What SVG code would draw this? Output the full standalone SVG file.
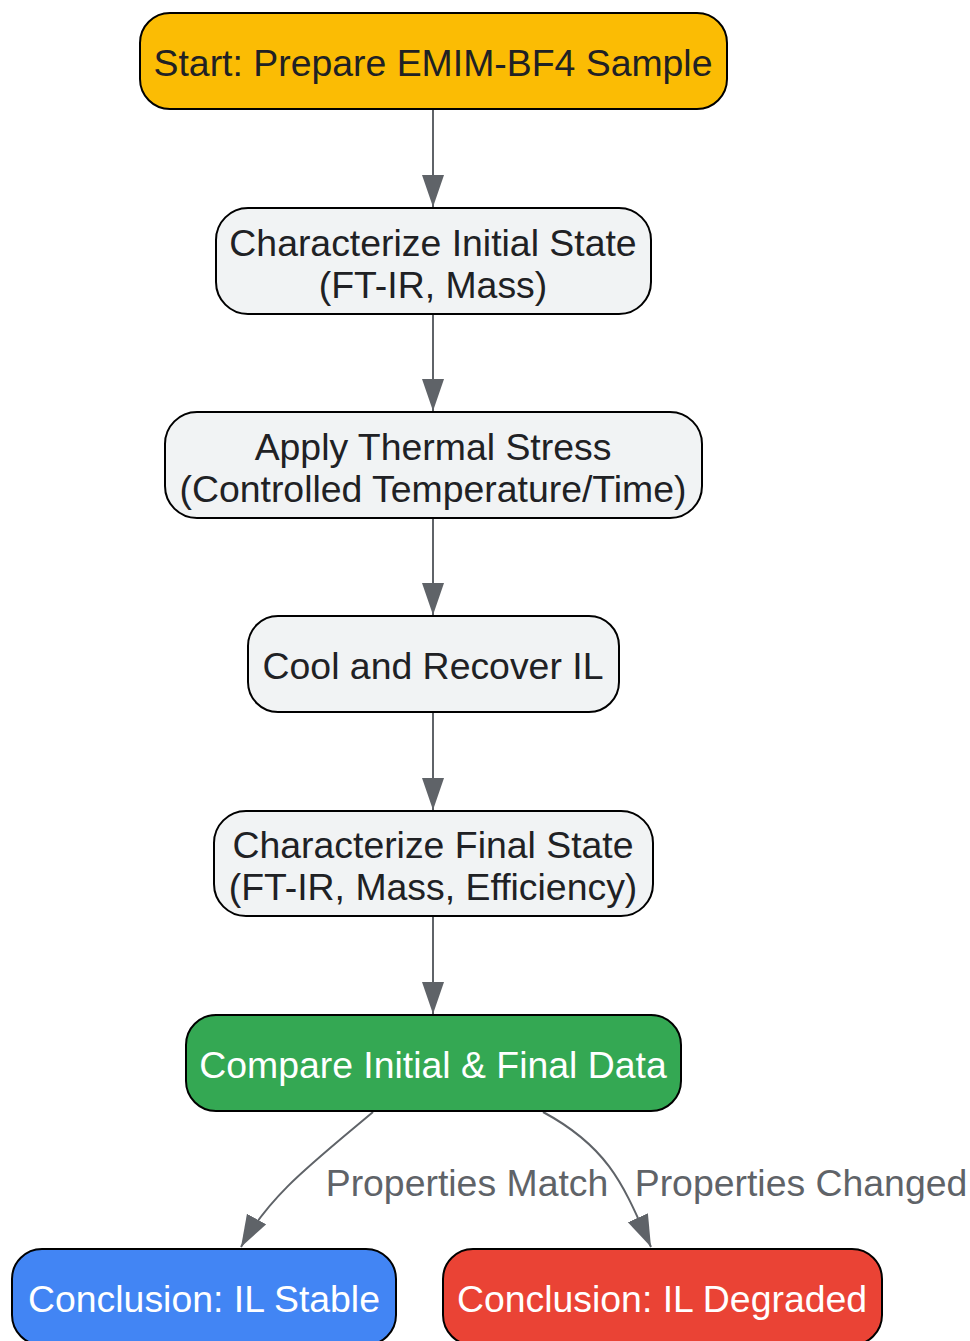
<svg xmlns="http://www.w3.org/2000/svg" width="970" height="1341" viewBox="0 0 970 1341">
<style>
.n rect{stroke:#000;stroke-width:2}
.g{fill:#F1F3F4}
.t{font-family:"Liberation Sans",Arial,sans-serif;font-size:37.4px;fill:#202124;text-anchor:middle}
.w{fill:#FFFFFF}
.e{fill:none;stroke:#5F6368;stroke-width:2}
.l{font-family:"Liberation Sans",Arial,sans-serif;font-size:37.4px;fill:#5F6368;text-anchor:middle}
</style>
<defs>
<marker id="ah" markerUnits="userSpaceOnUse" markerWidth="34" markerHeight="24" refX="32" refY="11" orient="auto">
<path d="M0,0 L32,11 L0,22 Z" fill="#5F6368"/>
</marker>
</defs>
<g id="connectors">
<path class="e" d="M433,109 L433,207" marker-end="url(#ah)"/>
<path class="e" d="M433,314 L433,411" marker-end="url(#ah)"/>
<path class="e" d="M433,518 L433,615" marker-end="url(#ah)"/>
<path class="e" d="M433,712 L433,810" marker-end="url(#ah)"/>
<path class="e" d="M433,916 L433,1014" marker-end="url(#ah)"/>
<path class="e" d="M373,1112 C310,1165 270,1195 241,1247" marker-end="url(#ah)"/>
<path class="e" d="M543,1112 C610,1148 624,1187 651,1247" marker-end="url(#ah)"/>
<text class="l" x="467" y="1196">Properties Match</text>
<text class="l" x="801" y="1196">Properties Changed</text>
</g>
<g id="start" class="n">
<rect x="140" y="13" width="587" height="96" rx="30" fill="#FBBC04"/>
<text class="t" x="433" y="76">Start: Prepare EMIM-BF4 Sample</text>
</g>
<g id="initial" class="n">
<rect class="g" x="216" y="208" width="435" height="106" rx="32"/>
<text class="t" x="433" y="256">Characterize Initial State</text>
<text class="t" x="433" y="298">(FT-IR, Mass)</text>
</g>
<g id="stress" class="n">
<rect class="g" x="165" y="412" width="537" height="106" rx="32"/>
<text class="t" x="433" y="460">Apply Thermal Stress</text>
<text class="t" x="433" y="502">(Controlled Temperature/Time)</text>
</g>
<g id="cool" class="n">
<rect class="g" x="248" y="616" width="371" height="96" rx="30"/>
<text class="t" x="433" y="679">Cool and Recover IL</text>
</g>
<g id="final" class="n">
<rect class="g" x="214" y="811" width="439" height="105" rx="32"/>
<text class="t" x="433" y="858">Characterize Final State</text>
<text class="t" x="433" y="900">(FT-IR, Mass, Efficiency)</text>
</g>
<g id="compare" class="n">
<rect x="186" y="1015" width="495" height="96" rx="30" fill="#34A853"/>
<text class="t w" x="433" y="1078">Compare Initial &amp; Final Data</text>
</g>
<g id="stable" class="n">
<rect x="12" y="1249" width="384" height="96" rx="30" fill="#4285F4"/>
<text class="t w" x="204" y="1312">Conclusion: IL Stable</text>
</g>
<g id="degraded" class="n">
<rect x="443" y="1249" width="439" height="96" rx="30" fill="#EA4335"/>
<text class="t w" x="662" y="1312">Conclusion: IL Degraded</text>
</g>
</svg>
